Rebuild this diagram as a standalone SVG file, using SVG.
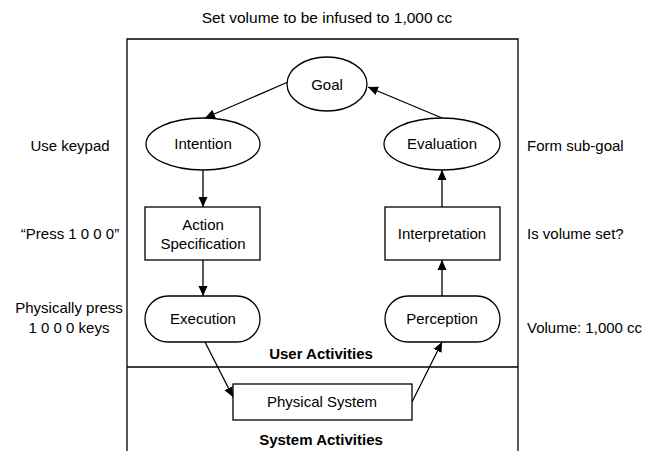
<svg xmlns="http://www.w3.org/2000/svg" width="646" height="451" viewBox="0 0 646 451">
<defs>
<style>
text{font-family:"Liberation Sans",Arial,sans-serif;font-size:15px;fill:#000}
.c{text-anchor:middle}
.b{font-weight:bold}
.s{fill:#fff;stroke:#000;stroke-width:1.3}
.l{stroke:#000;stroke-width:1.3;fill:none}
</style>
<marker id="ah" viewBox="0 0 10 10" refX="10" refY="5" markerWidth="10" markerHeight="10" markerUnits="userSpaceOnUse" orient="auto"><path d="M0,0.5L10,5L0,9.5z" fill="#000"/></marker>
</defs>
<rect width="646" height="451" fill="#fff"/>
<text class="c" x="327" y="23" style="font-size:15.5px">Set volume to be infused to 1,000 cc</text>
<g id="frame">
<path class="l" d="M127,460V39H518V460M127,367H518"/>
<text class="c b" x="321" y="359">User Activities</text>
<text class="c b" x="321" y="445">System Activities</text>
</g>
<g id="labels">
<text class="c" x="70" y="151">Use keypad</text>
<text class="c" x="70" y="239">“Press 1 0 0 0”</text>
<text class="c" x="69" y="313">Physically press</text>
<text class="c" x="69" y="333">1 0 0 0 keys</text>
<text x="527" y="151">Form sub-goal</text>
<text x="527" y="239">Is volume set?</text>
<text x="527" y="333">Volume: 1,000 cc</text>
</g>
<g id="connectors">
<line class="l" x1="288" y1="82" x2="205" y2="118" marker-end="url(#ah)"/>
<line class="l" x1="442" y1="118" x2="368" y2="87" marker-end="url(#ah)"/>
<line class="l" x1="203" y1="170" x2="203" y2="207" marker-end="url(#ah)"/>
<line class="l" x1="203" y1="260" x2="203" y2="296" marker-end="url(#ah)"/>
<line class="l" x1="442" y1="296" x2="442" y2="260" marker-end="url(#ah)"/>
<line class="l" x1="442" y1="207" x2="442" y2="170" marker-end="url(#ah)"/>
<line class="l" x1="205" y1="342" x2="233" y2="397" marker-end="url(#ah)"/>
<line class="l" x1="412" y1="402" x2="442" y2="342" marker-end="url(#ah)"/>
</g>
<g id="goal"><ellipse class="s" cx="327" cy="84" rx="40" ry="27"/><text class="c" x="327" y="90">Goal</text></g>
<g id="intention"><ellipse class="s" cx="203" cy="144" rx="57" ry="26"/><text class="c" x="203" y="149">Intention</text></g>
<g id="evaluation"><ellipse class="s" cx="442" cy="144" rx="58" ry="26"/><text class="c" x="442" y="149">Evaluation</text></g>
<g id="action"><rect class="s" x="145" y="207" width="115" height="53"/><text class="c" x="203" y="230">Action</text><text class="c" x="203" y="249">Specification</text></g>
<g id="interpretation"><rect class="s" x="385" y="207" width="115" height="53"/><text class="c" x="442" y="239">Interpretation</text></g>
<g id="execution"><rect class="s" x="145" y="296" width="115" height="46" rx="23"/><text class="c" x="203" y="324">Execution</text></g>
<g id="perception"><rect class="s" x="385" y="296" width="115" height="46" rx="23"/><text class="c" x="442" y="324">Perception</text></g>
<g id="physical"><rect class="s" x="233" y="384" width="179" height="36"/><text class="c" x="322" y="407">Physical System</text></g>
</svg>
